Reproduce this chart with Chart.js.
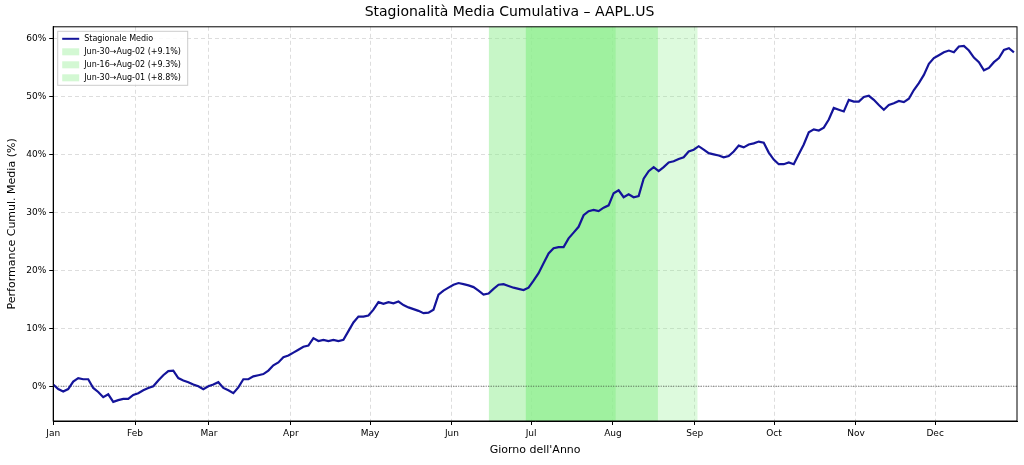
<!DOCTYPE html>
<html lang="en">
<head>
  <meta charset="UTF-8">
  <script src="https://cdn.jsdelivr.net/npm/chart.js"></script>
  <style>
    body { margin: 0; background: #fff; }
    #wrap { width: 1024px; height: 465px; }
  </style>
</head>
<body>
  <div id="wrap"><canvas id="seasonChart"></canvas></div>
  <script>
    // sampled roughly every 1.9 days of the year, starting at day 1
    const firstDay = 1;
    const dayStep = 1.895;
    const cumulPerf = [
      0.3, -0.5, -0.9, -0.5, 0.8, 1.4, 1.2, 1.2, -0.3, -1.0, -1.9, -1.4, -2.7, -2.4, -2.2, -2.2, -1.5, -1.2, -0.7, -0.3,
      0.0, 1.0, 1.9, 2.6, 2.7, 1.4, 1.0, 0.7, 0.3, 0.0, -0.5, 0.0, 0.3, 0.7, -0.3, -0.7, -1.2, -0.2, 1.2, 1.2,
      1.7, 1.9, 2.1, 2.7, 3.6, 4.1, 5.0, 5.3, 5.8, 6.3, 6.8, 7.0, 8.3, 7.8, 8.0, 7.8, 8.0, 7.8, 8.0, 9.5,
      11.0, 12.0, 12.0, 12.2, 13.2, 14.5, 14.2, 14.5, 14.3, 14.6, 14.0, 13.6, 13.3, 13.0, 12.6, 12.7, 13.2, 15.8, 16.5, 17.0,
      17.5, 17.8, 17.6, 17.4, 17.1, 16.5, 15.8, 16.0, 16.8, 17.5, 17.6, 17.3, 17.0, 16.8, 16.6, 17.0, 18.2, 19.5, 21.2, 22.9,
      23.8, 24.0, 24.0, 25.5, 26.5, 27.5, 29.5, 30.2, 30.4, 30.2, 30.8, 31.2, 33.3, 33.8, 32.6, 33.1, 32.6, 32.8, 35.8, 37.1,
      37.8, 37.1, 37.8, 38.6, 38.8, 39.2, 39.5, 40.5, 40.8, 41.4, 40.8, 40.2, 40.0, 39.8, 39.5, 39.7, 40.5, 41.5, 41.2, 41.7,
      41.9, 42.2, 42.0, 40.3, 39.1, 38.3, 38.3, 38.6, 38.3, 40.0, 41.7, 43.8, 44.3, 44.1, 44.6, 46.0, 48.0, 47.7, 47.4, 49.4,
      49.1, 49.1, 49.9, 50.1, 49.4, 48.5, 47.7, 48.5, 48.8, 49.2, 49.0, 49.6, 51.1, 52.3, 53.7, 55.6, 56.6, 57.1, 57.6, 57.9,
      57.6, 58.6, 58.7, 57.9, 56.7, 55.9, 54.5, 54.9, 55.9, 56.6, 58.0, 58.3, 57.6
    ];
    const monthStarts = [1, 32, 60, 91, 121, 152, 182, 213, 244, 274, 305, 335];
    const monthNames = ['Jan', 'Feb', 'Mar', 'Apr', 'May', 'Jun', 'Jul', 'Aug', 'Sep', 'Oct', 'Nov', 'Dec'];
    const windowLabels = ['Jun-30\u2192Aug-02 (+9.1%)', 'Jun-16\u2192Aug-02 (+9.3%)', 'Jun-30\u2192Aug-01 (+8.8%)'];
    const windowStart = [166, 180, 180];
    const windowEnd = [230, 245, 214];
    const windowAlpha = [0.5, 0.3, 0.6];

    const points = cumulPerf.map((v, i) => ({ x: firstDay + i * dayStep, y: v }));

    const bands = {
      id: 'bands',
      beforeDatasetsDraw(chart) {
        const { ctx, chartArea, scales } = chart;
        ctx.save();
        windowStart.forEach((s, i) => {
          const x1 = scales.x.getPixelForValue(s);
          const x2 = scales.x.getPixelForValue(windowEnd[i]);
          ctx.fillStyle = `rgba(144,238,144,${windowAlpha[i]})`;
          ctx.fillRect(x1, chartArea.top, x2 - x1, chartArea.bottom - chartArea.top);
        });
        const y0 = scales.y.getPixelForValue(0);
        ctx.strokeStyle = '#333';
        ctx.lineWidth = 0.8;
        ctx.setLineDash([1, 1.5]);
        ctx.beginPath();
        ctx.moveTo(chartArea.left, y0);
        ctx.lineTo(chartArea.right, y0);
        ctx.stroke();
        ctx.restore();
      },
      afterDraw(chart) {
        const { ctx, chartArea } = chart;
        ctx.save();
        ctx.strokeStyle = '#000';
        ctx.lineWidth = 1;
        ctx.strokeRect(chartArea.left, chartArea.top, chartArea.right - chartArea.left, chartArea.bottom - chartArea.top);
        // legend box, upper left
        const lx = chartArea.left + 4, ly = chartArea.top + 4;
        ctx.fillStyle = 'rgba(255,255,255,0.85)';
        ctx.strokeStyle = '#ccc';
        ctx.fillRect(lx, ly, 130, 54);
        ctx.strokeRect(lx + 0.5, ly + 0.5, 130, 54);
        ctx.font = '8px "DejaVu Sans"';
        ctx.textBaseline = 'middle';
        const rows = ['Stagionale Medio', ...windowLabels];
        rows.forEach((t, i) => {
          const cy = ly + 8 + i * 13;
          if (i === 0) {
            ctx.strokeStyle = '#14149a';
            ctx.lineWidth = 2;
            ctx.beginPath();
            ctx.moveTo(lx + 5, cy);
            ctx.lineTo(lx + 22, cy);
            ctx.stroke();
          } else {
            ctx.fillStyle = 'rgba(144,238,144,0.4)';
            ctx.fillRect(lx + 5, cy - 3.5, 17, 7);
          }
          ctx.fillStyle = '#000';
          ctx.fillText(t, lx + 27, cy);
        });
        ctx.restore();
      }
    };

    new Chart(document.getElementById('seasonChart'), {
      type: 'line',
      data: {
        datasets: [{
          label: 'Stagionale Medio',
          data: points,
          borderColor: '#14149a',
          backgroundColor: '#14149a',
          borderWidth: 2.2,
          pointRadius: 0,
          tension: 0,
          fill: false,
        }],
      },
      plugins: [bands],
      options: {
        responsive: true,
        maintainAspectRatio: false,
        animation: false,
        layout: { padding: { left: 2, right: 7, top: 0, bottom: 4 } },
        plugins: {
          title: {
            display: true,
            text: 'Stagionalità Media Cumulativa \u2013 AAPL.US',
            color: '#000',
            font: { family: 'DejaVu Sans', size: 14, weight: 'normal' },
            padding: { top: 4, bottom: 6 },
          },
          legend: { display: false },
          tooltip: { enabled: false },
        },
        scales: {
          x: {
            type: 'linear',
            min: 1,
            max: 366,
            afterBuildTicks: axis => { axis.ticks = monthStarts.map(v => ({ value: v })); },
            ticks: {
              autoSkip: false,
              maxRotation: 0,
              color: '#000',
              font: { family: 'DejaVu Sans', size: 9 },
              callback: v => monthNames[monthStarts.indexOf(v)],
            },
            grid: { color: '#ddd', tickColor: '#000', tickLength: 4 },
            border: { dash: [4, 3], color: '#000' },
            title: { display: true, text: "Giorno dell'Anno", color: '#000', font: { family: 'DejaVu Sans', size: 11 }, padding: { top: 2 } },
          },
          y: {
            min: -6,
            max: 62,
            afterBuildTicks: axis => { axis.ticks = [0, 10, 20, 30, 40, 50, 60].map(v => ({ value: v })); },
            ticks: {
              color: '#000',
              font: { family: 'DejaVu Sans', size: 9 },
              callback: v => v + '%',
            },
            grid: { color: '#ddd', tickColor: '#000', tickLength: 4 },
            border: { dash: [4, 3], color: '#000' },
            title: { display: true, text: 'Performance Cumul. Media (%)', color: '#000', font: { family: 'DejaVu Sans', size: 11 } },
          },
        },
      },
    });
  </script>
</body>
</html>
